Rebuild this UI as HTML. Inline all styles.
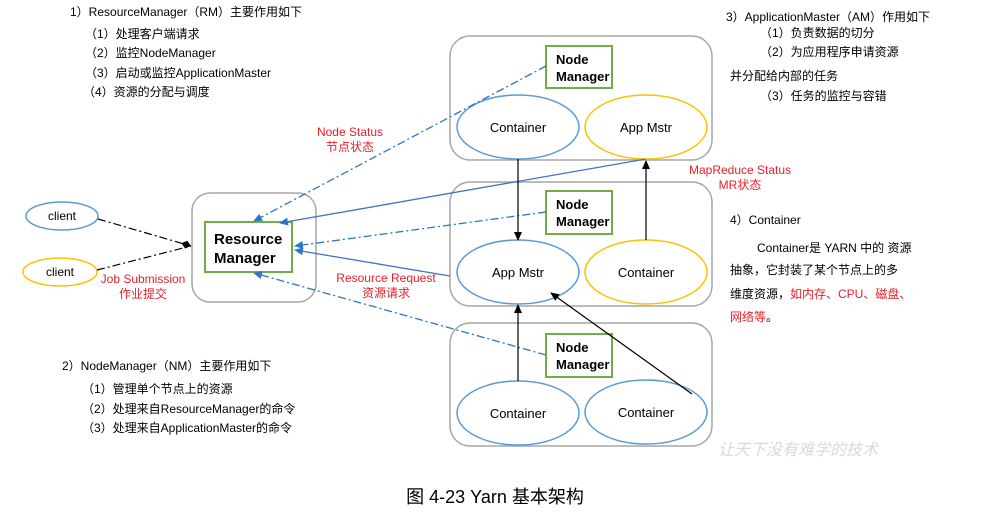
<!DOCTYPE html>
<html><head><meta charset="utf-8"><style>
html,body{margin:0;padding:0;background:#fff;}
svg{display:block;}
text{font-family:"Liberation Sans","Noto Sans CJK SC",sans-serif;}
</style></head><body>
<svg width="991" height="516" viewBox="0 0 991 516" xmlns="http://www.w3.org/2000/svg">
<defs>
<marker id="ab" markerWidth="10" markerHeight="10" refX="8" refY="4" orient="auto" markerUnits="userSpaceOnUse"><path d="M0,0 L9,4 L0,8 z" fill="#2e75c8"/></marker>
<marker id="ak" markerWidth="10" markerHeight="10" refX="8" refY="4" orient="auto" markerUnits="userSpaceOnUse"><path d="M0,0 L9,4 L0,8 z" fill="#000"/></marker>
<marker id="dk" markerWidth="12" markerHeight="10" refX="10" refY="5" orient="auto" markerUnits="userSpaceOnUse"><path d="M0,5 L5,1 L10,5 L5,9 z" fill="#000"/></marker>
</defs>
<g fill="none" stroke="#a6a6a6" stroke-width="1.5">
<rect x="450" y="36" width="262" height="124" rx="20"/>
<rect x="450" y="182" width="262" height="124" rx="20"/>
<rect x="450" y="323" width="262" height="123" rx="20"/>
<rect x="192" y="193" width="124" height="109" rx="18"/>
</g>
<g fill="#fff" stroke="#70ad47" stroke-width="2">
<rect x="546" y="46" width="66" height="42"/>
<rect x="546" y="191" width="66" height="43"/>
<rect x="546" y="334" width="66" height="43"/>
<rect x="205" y="222" width="87" height="50"/>
</g>
<g fill="#fff" stroke-width="1.5">
<ellipse cx="518" cy="127" rx="61" ry="32" stroke="#5b9bd5"/>
<ellipse cx="646" cy="127" rx="61" ry="32" stroke="#ffc000"/>
<ellipse cx="518" cy="272" rx="61" ry="32" stroke="#5b9bd5"/>
<ellipse cx="646" cy="272" rx="61" ry="32" stroke="#ffc000"/>
<ellipse cx="518" cy="413" rx="61" ry="32" stroke="#5b9bd5"/>
<ellipse cx="646" cy="412" rx="61" ry="32" stroke="#5b9bd5"/>
<ellipse cx="62" cy="216" rx="36" ry="14" stroke="#5b9bd5"/>
<ellipse cx="60" cy="272" rx="37" ry="14" stroke="#ffc000"/>
</g>
<g stroke="#2e75c8" stroke-width="1.3" fill="none">
<line x1="546" y1="66" x2="254" y2="221" stroke-dasharray="8,3,2,3" marker-end="url(#ab)"/>
<line x1="546" y1="212" x2="295" y2="246" stroke-dasharray="8,3,2,3" marker-end="url(#ab)"/>
<line x1="546" y1="355" x2="254" y2="273" stroke-dasharray="8,3,2,3" marker-end="url(#ab)"/>
<line x1="646" y1="159" x2="280" y2="223" stroke="#4472c4" marker-end="url(#ab)"/>
<line x1="450" y1="276" x2="295" y2="250" stroke="#4472c4" marker-end="url(#ab)"/>
</g>
<g stroke="#000" stroke-width="1.2" fill="none">
<line x1="518" y1="159" x2="518" y2="240" marker-end="url(#ak)"/>
<line x1="646" y1="240" x2="646" y2="161" marker-end="url(#ak)"/>
<line x1="518" y1="381" x2="518" y2="305" marker-end="url(#ak)"/>
<line x1="692" y1="394" x2="551" y2="293" marker-end="url(#ak)"/>
<line x1="98" y1="219" x2="191" y2="246" stroke-dasharray="8,3,2,3" marker-end="url(#dk)"/>
<line x1="97" y1="270" x2="191" y2="246" stroke-dasharray="8,3,2,3"/>
</g>
<g font-size="13" fill="#000" text-anchor="middle">
<text x="518" y="132">Container</text><text x="646" y="132">App Mstr</text>
<text x="518" y="277">App Mstr</text><text x="646" y="277">Container</text>
<text x="518" y="418">Container</text><text x="646" y="417">Container</text>
<text x="62" y="220" font-size="12">client</text><text x="60" y="276" font-size="12">client</text>
</g>
<g font-size="13" font-weight="bold" fill="#000">
<text x="556" y="64">Node</text><text x="556" y="81">Manager</text>
<text x="556" y="209">Node</text><text x="556" y="226">Manager</text>
<text x="556" y="352">Node</text><text x="556" y="369">Manager</text>
<text x="214" y="244" font-size="15">Resource</text><text x="214" y="263" font-size="15">Manager</text>
</g>
<g font-size="12" fill="#e8202a" text-anchor="middle">
<text x="350" y="136">Node Status</text><text x="350" y="151">节点状态</text>
<text x="740" y="174">MapReduce Status</text><text x="740" y="189">MR状态</text>
<text x="386" y="282">Resource Request</text><text x="386" y="297">资源请求</text>
<text x="143" y="283">Job Submission</text><text x="143" y="298">作业提交</text>
</g>
<g font-size="12" fill="#000">
<text x="70" y="16">1）ResourceManager（RM）主要作用如下</text>
<text x="85" y="38">（1）处理客户端请求</text>
<text x="85" y="57">（2）监控NodeManager</text>
<text x="85" y="77">（3）启动或监控ApplicationMaster</text>
<text x="83" y="96">（4）资源的分配与调度</text>
<text x="726" y="21">3）ApplicationMaster（AM）作用如下</text>
<text x="760" y="37">（1）负责数据的切分</text>
<text x="760" y="56">（2）为应用程序申请资源</text>
<text x="730" y="80">并分配给内部的任务</text>
<text x="760" y="100">（3）任务的监控与容错</text>
<text x="730" y="224">4）Container</text>
<text x="757" y="252">Container是 YARN 中的 资源</text>
<text x="730" y="274">抽象，它封装了某个节点上的多</text>
<text x="730" y="298">维度资源，<tspan fill="#e8202a">如内存、CPU、磁盘、</tspan></text>
<text x="730" y="321"><tspan fill="#e8202a">网络等</tspan>。</text>
<text x="62" y="370">2）NodeManager（NM）主要作用如下</text>
<text x="82" y="393">（1）管理单个节点上的资源</text>
<text x="82" y="413">（2）处理来自ResourceManager的命令</text>
<text x="82" y="432">（3）处理来自ApplicationMaster的命令</text>
</g>
<text x="718" y="455" font-size="16" fill="#d9d9d9" font-style="italic" font-family="'Noto Serif CJK SC',serif">让天下没有难学的技术</text>
<text x="495" y="503" font-size="18" fill="#000" text-anchor="middle">图 4-23 Yarn 基本架构</text>
</svg>
</body></html>
